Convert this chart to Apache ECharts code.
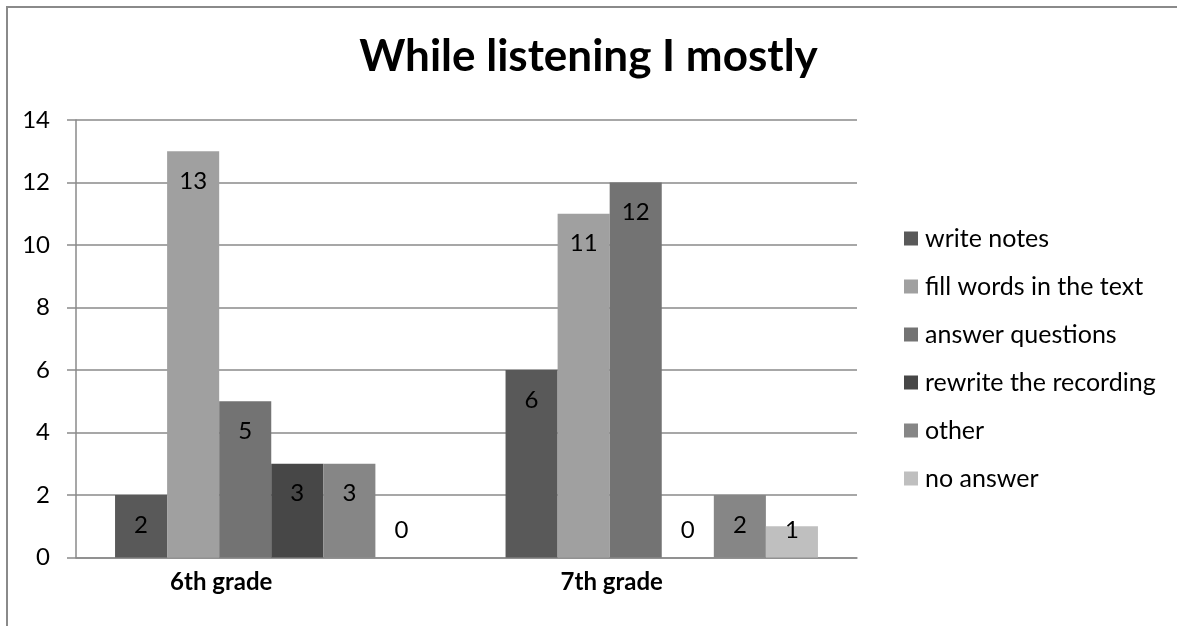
<!DOCTYPE html>
<html>
<head>
<meta charset="utf-8">
<script src="https://cdn.jsdelivr.net/npm/echarts@6/dist/echarts.min.js"></script>
<style>
  html, body { margin: 0; padding: 0; background: #ffffff; overflow: hidden; }
  #wrap { position: relative; width: 1177px; height: 626px; overflow: hidden; }
  #chart { position: absolute; left: 0; top: 0; width: 1177px; height: 626px; }
  /* chart frame: only its top and left edges fall inside the page */
  #frame {
    position: absolute; left: 6px; top: 6px; width: 1400px; height: 900px;
    border-top: 2px solid #8a8a8a; border-left: 2px solid #8a8a8a;
    pointer-events: none;
  }
</style>
</head>
<body>
<div id="wrap">
  <div id="chart"></div>
  <div id="frame"></div>
</div>
<script>
// Survey answers per grade
const categories = ['6th grade', '7th grade'];
const seriesNames = ['write notes', 'fill words in the text', 'answer questions', 'rewrite the recording', 'other', 'no answer'];
const writeNotes = [2, 6];
const fillWords = [13, 11];
const answerQuestions = [5, 12];
const rewriteRecording = [3, 0];
const other = [3, 2];
const noAnswer = [0, 1];
const yTicks = [0, 2, 4, 6, 8, 10, 12, 14];

const seriesValues = [writeNotes, fillWords, answerQuestions, rewriteRecording, other, noAnswer];
const colors = ['#595959', '#a0a0a0', '#737373', '#474747', '#868686', '#bfbfbf'];
const FONT = 'Lato, "Open Sans", sans-serif';

// Short bars get their value label lifted off the baseline
function toItem(v) {
  if (v < 2) {
    return { value: v, label: { position: 'insideBottom', distance: 15 } };
  }
  return v;
}

const chart = echarts.init(document.getElementById('chart'), null, { renderer: 'canvas' });

chart.setOption({
  backgroundColor: '#ffffff',
  animation: false,
  title: {
    text: 'While listening I mostly',
    left: 'center',
    top: 30,
    textStyle: { fontFamily: FONT, fontWeight: 'bold', fontSize: 44, color: '#000000' }
  },
  legend: {
    orient: 'vertical',
    left: 899,
    top: 221,
    itemWidth: 14,
    itemHeight: 14,
    itemGap: 23,
    icon: 'rect',
    data: seriesNames,
    textStyle: { fontFamily: FONT, fontSize: 25, color: '#000000', padding: [0, 0, 0, 2] }
  },
  grid: { left: 76, right: 320, top: 120, bottom: 68.5, containLabel: false },
  xAxis: {
    type: 'category',
    data: categories,
    axisLine: { show: true, lineStyle: { color: '#8a8a8a', width: 1.5 } },
    axisTick: { show: false },
    axisLabel: {
      fontFamily: FONT, fontWeight: 'bold', fontSize: 24, color: '#000000', margin: 13,
      padding: [0, 100, 0, 0]
    }
  },
  yAxis: {
    type: 'value',
    min: yTicks[0],
    max: yTicks[yTicks.length - 1],
    interval: yTicks[1] - yTicks[0],
    axisLine: { show: true, lineStyle: { color: '#8a8a8a', width: 1.5 } },
    axisTick: { show: true, length: 9, lineStyle: { color: '#8a8a8a', width: 1.5 } },
    splitLine: { show: true, lineStyle: { color: '#8a8a8a', width: 1.5 } },
    axisLabel: { fontFamily: FONT, fontSize: 24, color: '#000000', margin: 26 }
  },
  series: seriesNames.map((name, i) => ({
    name: name,
    type: 'bar',
    barGap: '0%',
    barCategoryGap: '20%',
    itemStyle: { color: colors[i] },
    label: {
      show: true,
      position: 'insideTop',
      distance: 18,
      fontFamily: FONT,
      fontSize: 24,
      color: '#000000'
    },
    data: seriesValues[i].map(toItem)
  }))
});
</script>
</body>
</html>
